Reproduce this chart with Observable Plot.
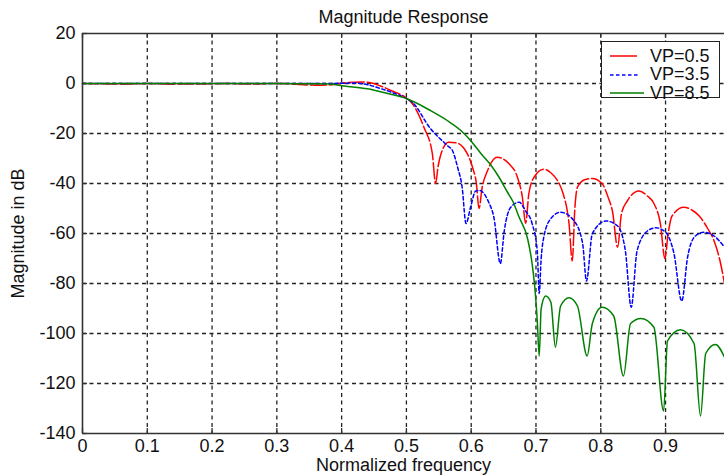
<!DOCTYPE html>
<html>
<head>
<meta charset="utf-8">
<script src="https://cdn.jsdelivr.net/npm/d3@7"></script>
<script src="https://cdn.jsdelivr.net/npm/@observablehq/plot@0.6"></script>
<style>
  html, body { margin: 0; padding: 0; background: #fff; }
  #wrap { position: relative; width: 724px; height: 476px; font-family: "Liberation Sans", Arial, sans-serif; }
  #legend { position: absolute; left: 601px; top: 41px; width: 117px; height: 55px; border: 1.5px solid #222; background: #fff; }
  .row { position: absolute; left: 0; height: 18px; display: flex; align-items: center; font-size: 18px; color: #111; white-space: nowrap; }
  .row svg { margin-left: 8px; }
</style>
</head>
<body>
<div id="wrap"><div id="chart"></div><div id="legend"></div></div>
<script>
// ---- tick labels / grid ----
const xTicks = [0, 0.1, 0.2, 0.3, 0.4, 0.5, 0.6, 0.7, 0.8, 0.9];
const yTicks = [-140, -120, -100, -80, -60, -40, -20, 0, 20];
const xGrid = [0.1, 0.2, 0.3, 0.4, 0.5, 0.6, 0.7, 0.8, 0.9];
const yGrid = [-120, -100, -80, -60, -40, -20, 0];

// ---- series names and colours ----
const seriesNames = ["VP=0.5", "VP=3.5", "VP=8.5"];
const seriesColors = ["#ff0000", "#0000ff", "#008000"];

// ---- VP=0.5 (red) ----
const vp05Freq = [0, 0.03, 0.06, 0.1, 0.14, 0.18, 0.22, 0.26, 0.3, 0.33, 0.36, 0.385, 0.41, 0.43, 0.445, 0.46, 0.48, 0.5,
  0.509, 0.527, 0.54, 0.545, 0.549, 0.553, 0.565, 0.578, 0.589, 0.602, 0.608, 0.612, 0.617, 0.625, 0.64, 0.658, 0.672, 0.679,
  0.684, 0.689, 0.697, 0.712, 0.722, 0.743, 0.751, 0.756, 0.76, 0.764, 0.775, 0.787, 0.802, 0.812, 0.818, 0.826, 0.832, 0.841,
  0.859, 0.872, 0.882, 0.892, 0.899, 0.904, 0.91, 0.928, 0.94, 0.952, 0.965, 0.975, 0.985, 0.991];
const vp05Mag = [0, -0.1, -0.25, 0, -0.25, -0.2, 0, -0.2, 0, -0.3, -0.7, -0.5, 0.4, 0.6, 0.3, -1.0, -3.2, -5.8,
  -8, -17.5, -28, -40, -33, -28.5, -23.5, -23.8, -26, -33.5, -40, -50, -41.5, -35, -29.5, -32, -38, -45.5,
  -56, -44, -37.5, -34.3, -35.5, -45, -56, -71, -50, -41.5, -38.5, -38, -40, -46, -51, -65.5, -52, -47,
  -43, -45, -48, -56, -70, -60, -53, -49.5, -50.5, -53, -58, -63, -72, -80];

// ---- VP=3.5 (blue) ----
const vp35Freq = [0, 0.1, 0.2, 0.3, 0.38, 0.4, 0.42, 0.44, 0.46, 0.48, 0.5, 0.509, 0.537, 0.563, 0.571, 0.579, 0.586, 0.592,
  0.599, 0.607, 0.613, 0.627, 0.635, 0.645, 0.651, 0.661, 0.674, 0.684, 0.694, 0.702, 0.705, 0.708, 0.712, 0.723, 0.738,
  0.759, 0.772, 0.778, 0.787, 0.808, 0.826, 0.838, 0.847, 0.856, 0.872, 0.885, 0.9, 0.913, 0.925, 0.934, 0.946, 0.959, 0.975, 0.991];
const vp35Mag = [0, 0, 0, 0, 0, 0.1, 0.2, -0.5, -2, -3.8, -6, -7.5, -18, -24.8, -26.8, -33.5, -41.5, -56,
  -49.5, -43, -42.8, -47.5, -53.5, -72, -59, -49.5, -47.5, -51, -56, -67, -84, -70, -61.5, -54, -51.5,
  -55, -64, -79, -60, -55, -57, -67, -89.5, -67, -59, -57.7, -59.5, -68, -87, -69.5, -61, -59.5, -61, -65.5];

// ---- VP=8.5 (green) ----
const vp85Freq = [0, 0.1, 0.2, 0.3, 0.38, 0.404, 0.44, 0.471, 0.5, 0.537, 0.563, 0.584, 0.599, 0.615, 0.63, 0.643, 0.656,
  0.664, 0.674, 0.687, 0.694, 0.698, 0.702, 0.705, 0.708, 0.715, 0.723, 0.73, 0.738, 0.751, 0.764, 0.779, 0.787, 0.802,
  0.82, 0.835, 0.846, 0.862, 0.882, 0.897, 0.903, 0.923, 0.944, 0.954, 0.962, 0.977, 0.991];
const vp85Mag = [0, 0, 0, 0, -0.2, -1, -2.1, -4, -6, -10.8, -14.8, -18.8, -22.8, -28, -32.5, -37.5, -43.5,
  -47, -53.5, -62, -72, -81, -95, -109, -90, -85, -87.5, -105.5, -89, -85.7, -89, -109, -96, -89.5,
  -93, -117, -96, -94, -97.5, -131, -103, -98.5, -104, -133, -108, -104.4, -109.5];

const toRows = (fs, ms) => fs.map((f, i) => ({f, m: ms[i]}));
const red = toRows(vp05Freq, vp05Mag);
const blue = toRows(vp35Freq, vp35Mag);
const green = toRows(vp85Freq, vp85Mag);

const fmt = d => String(d);
const gridStyle = {stroke: "#222", strokeWidth: 1.3, strokeDasharray: "4,3.5"};

const chart = Plot.plot({
  width: 724,
  height: 476,
  marginLeft: 82,
  marginRight: 0,
  marginTop: 33,
  marginBottom: 43,
  style: {fontFamily: "'Liberation Sans', Arial, sans-serif", fontSize: "18px", color: "#111", background: "#fff"},
  x: {domain: [0, 0.991], label: null},
  y: {domain: [-140, 20], label: null},
  marks: [
    Plot.ruleX(xGrid, {...gridStyle}),
    Plot.ruleY(yGrid, {...gridStyle}),
    // inward ticks
    Plot.tickX(xTicks, {x: d => d, insetTop: 395, stroke: "#333", strokeWidth: 1.3}),
    Plot.tickX(xTicks, {x: d => d, insetBottom: 395, stroke: "#333", strokeWidth: 1.3}),
    Plot.tickY(yTicks, {y: d => d, insetRight: 637, stroke: "#333", strokeWidth: 1.3}),
    Plot.line(red, {x: "f", y: "m", stroke: seriesColors[0], strokeWidth: 1.5, curve: "monotone-x", strokeDasharray: "16,3"}),
    Plot.line(blue, {x: "f", y: "m", stroke: seriesColors[1], strokeWidth: 1.5, curve: "monotone-x", strokeDasharray: "3.5,2.5"}),
    Plot.line(green, {x: "f", y: "m", stroke: seriesColors[2], strokeWidth: 1.5, curve: "monotone-x"}),
    // axes box
    Plot.ruleX([0], {stroke: "#333", strokeWidth: 1.6}),
    Plot.ruleY([-140], {stroke: "#333", strokeWidth: 1.6}),
    Plot.ruleY([20], {stroke: "#333", strokeWidth: 1.6}),
    Plot.axisX(xTicks, {tickSize: 0, tickPadding: 6, tickFormat: fmt, label: null}),
    Plot.axisY(yTicks, {tickSize: 0, tickPadding: 7, tickFormat: fmt, label: null}),
    Plot.text(["Magnitude Response"], {frameAnchor: "top", lineAnchor: "middle", dy: -16, fontSize: 18}),
    Plot.text(["Normalized frequency"], {frameAnchor: "bottom", lineAnchor: "middle", dy: 32, fontSize: 18}),
    Plot.text(["Magnitude in dB"], {frameAnchor: "left", textAnchor: "middle", lineAnchor: "middle", dx: -64, rotate: -90, fontSize: 18})
  ]
});
document.getElementById("chart").appendChild(chart);

// legend built from the series definitions
const legend = document.getElementById("legend");
const dashes = ["", "3.5,2.5", ""];
const sampleLen = [27, 28, 34];
seriesNames.forEach((name, i) => {
  const row = document.createElement("div");
  row.className = "row";
  row.style.top = (5 + i * 18.5) + "px";
  row.innerHTML = `<svg width="${sampleLen[i]}" height="4" style="margin-right:${38 - sampleLen[i] + 2}px"><line x1="0" x2="${sampleLen[i]}" y1="2" y2="2" stroke="${seriesColors[i]}" stroke-width="1.5" ${dashes[i] ? `stroke-dasharray="${dashes[i]}"` : ""}/></svg><span>${name}</span>`;
  legend.appendChild(row);
});
</script>
</body>
</html>
